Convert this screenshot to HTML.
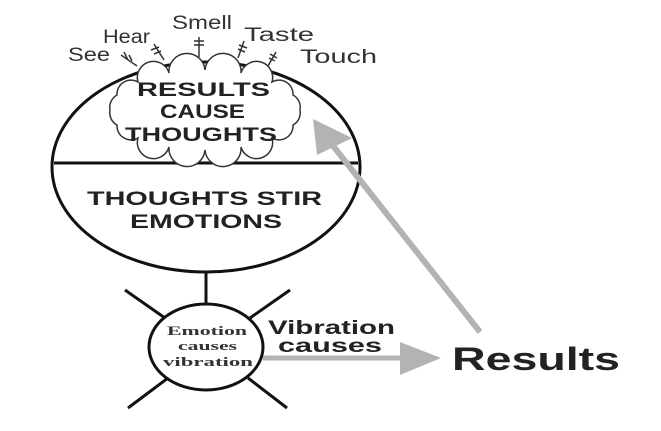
<!DOCTYPE html>
<html><head><meta charset="utf-8"><style>
html,body{margin:0;padding:0;background:#fff;}
svg{display:block;}
text{font-family:"Liberation Sans",sans-serif;}
</style></head><body>
<svg width="661" height="431" viewBox="0 0 661 431" xmlns="http://www.w3.org/2000/svg">
<rect width="661" height="431" fill="#fff"/>
<ellipse cx="206" cy="167" rx="154" ry="105" fill="none" stroke="#111" stroke-width="3"/>
<line x1="54" y1="163" x2="358" y2="163" stroke="#111" stroke-width="3"/>
<path d="M300,110 A14 14 0 0 1 293,125 A14 14 0 0 1 272,138 A14 14 0 0 1 241,147 A14 14 0 0 1 205,150 A14 14 0 0 1 169,147 A14 14 0 0 1 138,138 A14 14 0 0 1 117,125 A14 14 0 0 1 110,110 A14 14 0 0 1 117,95 A14 14 0 0 1 138,82 A14 14 0 0 1 169,73 A14 14 0 0 1 205,70 A14 14 0 0 1 241,73 A14 14 0 0 1 272,82 A14 14 0 0 1 293,95 A14 14 0 0 1 300,110 Z" fill="#fff" stroke="#333" stroke-width="1.5"/>
<g font-weight="bold" font-size="19" fill="#222" lengthAdjust="spacingAndGlyphs">
<text x="137" y="96" textLength="133" lengthAdjust="spacingAndGlyphs">RESULTS</text>
<text x="160" y="118" textLength="85" lengthAdjust="spacingAndGlyphs">CAUSE</text>
<text x="125" y="141" textLength="152" lengthAdjust="spacingAndGlyphs">THOUGHTS</text>
<text x="87" y="205" textLength="235" lengthAdjust="spacingAndGlyphs">THOUGHTS STIR</text>
<text x="130" y="228" textLength="152" lengthAdjust="spacingAndGlyphs">EMOTIONS</text>
</g>
<g font-size="19" fill="#333">
<text x="68" y="61" textLength="42" lengthAdjust="spacingAndGlyphs">See</text>
<text x="103" y="43" textLength="47" lengthAdjust="spacingAndGlyphs">Hear</text>
<text x="172" y="29" textLength="60" lengthAdjust="spacingAndGlyphs">Smell</text>
<text x="244" y="41" textLength="70" lengthAdjust="spacingAndGlyphs">Taste</text>
<text x="300" y="63" textLength="77" lengthAdjust="spacingAndGlyphs">Touch</text>
</g>
<g stroke="#333" stroke-width="1.5" fill="none">
<line x1="121" y1="55" x2="137" y2="66"/><path d="M124,52 l4,8 M129,55 l3,6"/>
<line x1="154" y1="44" x2="164" y2="60"/><path d="M151,50 l8,-3 M154,54 l7,-3"/>
<line x1="199" y1="37" x2="199" y2="57"/><path d="M194,41 h10 M194,45 h10"/>
<line x1="244" y1="41" x2="238" y2="58"/><path d="M239,45 l8,3 M238,49 l7,3"/>
<line x1="276" y1="52" x2="268" y2="66"/><path d="M270,54 l7,4 M269,58 l6,3"/>
</g>
<line x1="206" y1="272" x2="206" y2="305" stroke="#111" stroke-width="3"/>
<g stroke="#111" stroke-width="3">
<line x1="125" y1="290" x2="165" y2="318"/>
<line x1="290" y1="290" x2="250" y2="318"/>
<line x1="128" y1="408" x2="168" y2="378"/>
<line x1="287" y1="408" x2="248" y2="378"/>
</g>
<ellipse cx="206" cy="347" rx="57" ry="43" fill="#fff" stroke="#111" stroke-width="3"/>
<g font-weight="bold" font-size="13" fill="#333" style="font-family:'Liberation Serif',serif">
<text x="167" y="335" textLength="80" lengthAdjust="spacingAndGlyphs" style="font-family:'Liberation Serif',serif">Emotion</text>
<text x="178" y="350" textLength="59" lengthAdjust="spacingAndGlyphs" style="font-family:'Liberation Serif',serif">causes</text>
<text x="163" y="366" textLength="90" lengthAdjust="spacingAndGlyphs" style="font-family:'Liberation Serif',serif">vibration</text>
</g>
<line x1="263" y1="358" x2="402" y2="358" stroke="#b3b3b3" stroke-width="5"/>
<polygon points="400,342 441,358 400,375" fill="#b3b3b3"/>
<line x1="480" y1="332" x2="330" y2="142" stroke="#b3b3b3" stroke-width="6"/>
<polygon points="313,119 352,138 317,155" fill="#b3b3b3"/>
<g font-weight="bold" fill="#222">
<text x="268" y="334" font-size="19" textLength="127" lengthAdjust="spacingAndGlyphs">Vibration</text>
<text x="278" y="352" font-size="19" textLength="104" lengthAdjust="spacingAndGlyphs">causes</text>
<text x="452" y="370" font-size="32" textLength="168" lengthAdjust="spacingAndGlyphs">Results</text>
</g>
</svg>
</body></html>
